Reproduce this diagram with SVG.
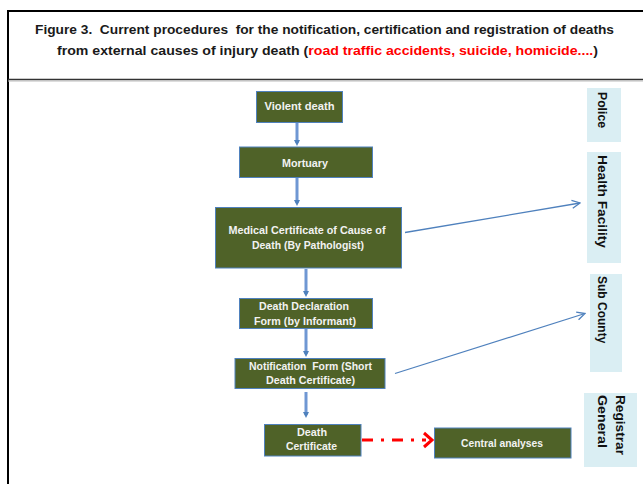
<svg xmlns="http://www.w3.org/2000/svg" width="643" height="484" viewBox="0 0 643 484">
<style>
.frame{fill:none;stroke:#000;stroke-width:2}
.node rect{fill:#4f6228;stroke:#4f81bd;stroke-width:1}
.node text{font-family:"Liberation Sans",Arial,sans-serif;font-size:10px;font-weight:bold;fill:#f2f2f2;text-anchor:middle;dominant-baseline:central}
.side rect{fill:#daeef3;stroke:none}
.side text{font-family:"Liberation Sans",Arial,sans-serif;font-size:12.5px;font-weight:bold;fill:#111}
.title{font-family:"Liberation Sans",Arial,sans-serif;font-size:13px;font-weight:bold;fill:#1a1a1a;white-space:pre}
.v{stroke:#6f97d3;stroke-width:3;fill:none}
.d{stroke:#4f81bd;stroke-width:1.3;fill:none}
</style>
<defs>
<marker id="ah" markerWidth="6" markerHeight="6" refX="3" refY="3" orient="auto" markerUnits="userSpaceOnUse">
<path d="M0,0 L6,3 L0,6 z" fill="#4f81bd"/>
</marker>
<marker id="oh" markerWidth="10" markerHeight="10" refX="9" refY="5" orient="auto" markerUnits="userSpaceOnUse">
<path d="M1,1 L9,5 L1,9" fill="none" stroke="#4f81bd" stroke-width="1.3"/>
</marker>
</defs>
<rect width="643" height="484" fill="#fff"/>
<path class="frame" d="M8,484 V11 H643"/>
<line x1="8" y1="79.5" x2="643" y2="79.5" stroke="#333" stroke-width="1.5"/>
<line x1="8" y1="81" x2="643" y2="81" stroke="#bbb" stroke-width="1"/>
<text class="title" xml:space="preserve" x="35" y="34" textLength="579" lengthAdjust="spacingAndGlyphs">Figure 3.  Current procedures  for the notification, certification and registration of deaths</text>
<text class="title" x="57" y="55" textLength="541" lengthAdjust="spacingAndGlyphs">from external causes of injury death (<tspan fill="#ff0000">road traffic accidents, suicide, homicide....</tspan>)</text>

<g id="connectors">
<line class="v" x1="297" y1="123" x2="297" y2="143" marker-end="url(#ah)"/>
<line class="v" x1="297" y1="178" x2="297" y2="203" marker-end="url(#ah)"/>
<line class="v" x1="306" y1="269" x2="306" y2="294" marker-end="url(#ah)"/>
<line class="v" x1="306" y1="329" x2="306" y2="354" marker-end="url(#ah)"/>
<line class="v" x1="306" y1="392" x2="306" y2="415" marker-end="url(#ah)"/>
<line class="d" x1="405" y1="232.5" x2="580" y2="203" marker-end="url(#oh)"/>
<line class="d" x1="395" y1="373.5" x2="585" y2="313.5" marker-end="url(#oh)"/>
<line x1="362" y1="440" x2="426" y2="440" stroke="#ff0000" stroke-width="3" stroke-dasharray="11 8 3 8"/>
<path d="M424,433 L432,440 L424,447" fill="none" stroke="#ff0000" stroke-width="3"/>
</g>

<g id="n-violent" class="node"><rect x="256.5" y="91.5" width="86" height="31"/><text x="299.5" y="106.5" textLength="70" lengthAdjust="spacingAndGlyphs">Violent death</text></g>
<g id="n-mortuary" class="node"><rect x="239.5" y="147" width="133" height="30.5"/><text x="305" y="163" textLength="46" lengthAdjust="spacingAndGlyphs">Mortuary</text></g>
<g id="n-medical" class="node"><rect x="215.5" y="207.5" width="186" height="60.5"/><text x="307" y="230" textLength="157" lengthAdjust="spacingAndGlyphs">Medical Certificate of Cause of</text><text x="308" y="245" textLength="112" lengthAdjust="spacingAndGlyphs">Death (By Pathologist)</text></g>
<g id="n-declaration" class="node"><rect x="239.5" y="298.5" width="133" height="30"/><text x="304" y="306" textLength="90" lengthAdjust="spacingAndGlyphs">Death Declaration</text><text x="305" y="321" textLength="102" lengthAdjust="spacingAndGlyphs">Form (by Informant)</text></g>
<g id="n-notification" class="node"><rect x="235" y="358.5" width="150" height="30"/><text xml:space="preserve" x="310.5" y="366.5" textLength="123" lengthAdjust="spacingAndGlyphs">Notification  Form (Short</text><text x="310.5" y="380.5" textLength="89" lengthAdjust="spacingAndGlyphs">Death Certificate)</text></g>
<g id="n-deathcert" class="node"><rect x="264.5" y="424.5" width="96.5" height="31.5"/><text x="312" y="432" textLength="30" lengthAdjust="spacingAndGlyphs">Death</text><text x="311.5" y="446" textLength="51" lengthAdjust="spacingAndGlyphs">Certificate</text></g>
<g id="n-central" class="node"><rect x="434.5" y="428" width="136.5" height="30"/><text x="502" y="443" textLength="82" lengthAdjust="spacingAndGlyphs">Central analyses</text></g>

<g id="s-police" class="side"><rect x="587" y="88" width="34" height="54"/><text transform="translate(597.5,92) rotate(90)" textLength="36" lengthAdjust="spacingAndGlyphs">Police</text></g>
<g id="s-health" class="side"><rect x="587" y="152" width="34" height="111"/><text transform="translate(597.5,155) rotate(90)" textLength="93" lengthAdjust="spacingAndGlyphs">Health Facility</text></g>
<g id="s-subcounty" class="side"><rect x="590" y="274" width="32" height="98"/><text style="font-size:12px" transform="translate(598,276) rotate(90)">Sub County</text></g>
<g id="s-registrar" class="side"><rect x="584" y="393" width="53" height="74"/><text transform="translate(615.5,395) rotate(90)" textLength="60" lengthAdjust="spacingAndGlyphs">Registrar</text><text transform="translate(597.5,395) rotate(90)" textLength="53" lengthAdjust="spacingAndGlyphs">General</text></g>
</svg>
